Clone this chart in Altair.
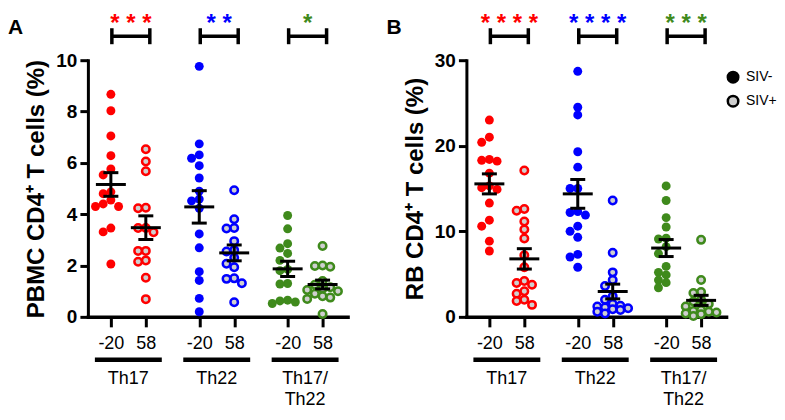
import json
import altair as alt
import pandas as pd

# ---------------- data ----------------
groups = ["Th17", "Th22", "Th17/Th22"]
group_labels = ["Th17", "Th22", "Th17/\nTh22"]
days = ["-20", "58"]
status = ["SIV-", "SIV+"]
group_colors = ["#ff0000", "#0000ff", "#3f8a1c"]
open_fill = "#cfcfcf"

# Panel A: PBMC
pbmc_th17_m20 = [8.67, 8.03, 7.05, 6.28, 5.76, 5.53, 4.87, 4.80, 4.55, 4.40, 4.30, 4.30, 3.46, 3.31, 2.06]
pbmc_th17_58 = [6.53, 6.05, 5.67, 4.25, 4.23, 3.46, 3.46, 3.30, 2.57, 2.57, 2.20, 2.15, 1.52, 0.69]
pbmc_th22_m20 = [9.76, 6.74, 6.31, 6.18, 5.89, 5.41, 4.90, 4.59, 4.52, 4.23, 3.23, 2.69, 1.76, 1.42, 0.72, 0.20]
pbmc_th22_58 = [4.93, 3.80, 3.46, 3.44, 2.95, 2.60, 2.55, 2.30, 2.07, 1.93, 1.50, 1.48, 1.31, 0.57]
pbmc_th1722_m20 = [3.95, 3.43, 2.85, 2.68, 2.47, 2.20, 1.85, 1.80, 1.30, 1.28, 0.65, 0.62, 0.58, 0.52]
pbmc_th1722_58 = [2.76, 2.00, 1.98, 1.95, 1.40, 1.25, 1.15, 1.10, 1.05, 1.00, 0.90, 0.80, 0.75, 0.70, 0.11]
pbmc_stars = ["***", "**", "*"]
pbmc_title = "PBMC CD4⁺ T cells (%)"
pbmc_ticks = [0, 2, 4, 6, 8, 10]

# Panel B: RB
rb_th17_m20 = [23.0, 21.0, 20.4, 18.4, 18.3, 18.2, 16.8, 15.3, 15.1, 14.9, 13.3, 11.3, 10.6, 8.85, 7.7]
rb_th17_58 = [17.1, 12.6, 12.4, 11.15, 10.2, 9.15, 7.2, 5.8, 4.2, 3.95, 3.75, 3.0, 2.7, 2.0, 1.85, 1.4]
rb_th22_m20 = [28.7, 24.5, 23.6, 19.3, 17.5, 15.0, 15.0, 12.3, 12.2, 11.9, 10.6, 10.0, 9.3, 7.3, 7.0, 5.8]
rb_th22_58 = [13.6, 7.5, 5.2, 4.3, 3.6, 2.4, 2.0, 1.5, 1.3, 1.2, 1.1, 1.0, 0.9, 0.8, 0.6, 0.4]
rb_th1722_m20 = [15.3, 13.6, 11.6, 10.5, 9.2, 9.1, 8.2, 7.4, 5.9, 5.2, 4.9, 4.3, 4.0, 3.4]
rb_th1722_58 = [9.0, 4.3, 2.9, 2.8, 2.0, 1.8, 1.5, 1.2, 0.8, 0.7, 0.6, 0.5, 0.4, 0.3, 0.1]
rb_stars = ["****", "****", "***"]
rb_title = "RB CD4⁺ T cells (%)"
rb_ticks = [0, 10, 20, 30]

# ---------------- layout ----------------
FONT = "Liberation Sans"
W, H = 260, 257
GROUP0, GROUP_STEP, HALF = 40.5, 88.5, 17.5
SWARM_STEP, SWARM_D, SWARM_MAXK = 7.7, 7.0, 2
SPACING = 39
LEGEND_X = 639
LEGEND_Y = 10


def swarm(vals, ymax):
    """Deterministic beeswarm offsets (pixel units) so dots do not pile up."""
    scale = H / ymax
    cands = [0.0]
    for k in range(1, SWARM_MAXK + 1):
        cands += [-k * SWARM_STEP, k * SWARM_STEP]
    order = sorted(range(len(vals)), key=lambda i: -vals[i])
    placed, offs = [], [0.0] * len(vals)
    for i in order:
        y = vals[i] * scale
        best, best_d = None, -1.0
        for c in cands:
            dmin = min([((c - px) ** 2 + (y - py) ** 2) ** 0.5 for px, py in placed] or [1e9])
            if dmin >= SWARM_D:
                best = c
                break
            if dmin > best_d:
                best, best_d = c, dmin
        offs[i] = best
        placed.append((best, y))
    return offs


def build_panel(series, ymax, yticks, ytitle, letter, stars, with_legend):
    rows = []
    tick_pos, tick_lab = [], []
    for gi, g in enumerate(groups):
        for di, d in enumerate(days):
            xb = GROUP0 + GROUP_STEP * gi + (2 * di - 1) * HALF
            tick_pos.append(xb)
            tick_lab.append(d)
            vals = series[gi][di]
            for v, o in zip(vals, swarm(vals, ymax)):
                rows.append(dict(group=g, day=d, status=status[di], value=v, xb=xb, xj=xb + o))
    df = pd.DataFrame(rows)

    grp = pd.DataFrame({
        "group": groups,
        "label": group_labels,
        "stars": [" ".join(s) for s in stars],
    })
    centers = [GROUP0 + GROUP_STEP * i for i in range(len(groups))]
    grp["xc"] = centers
    grp["bl"] = [c - HALF + 1 for c in centers]
    grp["br"] = [c + HALF + 4 for c in centers]
    grp["bc"] = (grp["bl"] + grp["br"]) / 2
    grp["ul"] = [c - 33.5 for c in centers]
    grp["ur"] = [c + 33.5 for c in centers]

    xscale = alt.Scale(domain=[0, W], nice=False, zero=False)
    xaxis = alt.Axis(
        values=tick_pos,
        labelExpr=f"{json.dumps(tick_lab)}[indexof({json.dumps(tick_pos)}, datum.value)]",
        title=None, grid=False, domainColor="black", domainWidth=3.5, domainCap="square",
        tickColor="black", tickWidth=3, tickSize=10, labelFont=FONT, labelFontSize=18,
        labelColor="black", labelPadding=8, labelFlush=False, labelOverlap=False,
    )
    yscale = alt.Scale(domain=[0, ymax], nice=False, zero=True)
    yaxis = alt.Axis(
        values=yticks, format="d", title=ytitle, grid=False, domainColor="black",
        domainWidth=3, domainCap="square", tickColor="black", tickWidth=3, tickSize=8,
        labelFont=FONT, labelFontSize=19, labelFontWeight="bold", labelColor="black",
        labelPadding=3, titleFont=FONT, titleFontSize=24, titleFontWeight="bold",
        titleColor="black", titlePadding=7,
    )

    def X(f):
        return alt.X(f"{f}:Q", scale=xscale, axis=xaxis)

    def Y(f):
        return alt.Y(f"{f}:Q", scale=yscale, axis=yaxis)

    gscale = alt.Scale(domain=groups, range=group_colors)

    base = alt.Chart(df)
    filled = base.transform_filter(alt.datum.status == status[0]).mark_point(
        filled=True, size=80, opacity=1, strokeWidth=0
    ).encode(x=X("xj"), y=Y("value"), fill=alt.Fill("group:N", scale=gscale, legend=None))
    hollow = base.transform_filter(alt.datum.status == status[1]).mark_point(
        filled=False, size=56, opacity=1, strokeWidth=2.5
    ).encode(
        x=X("xj"), y=Y("value"),
        stroke=alt.Stroke("group:N", scale=gscale, legend=None),
        fill=alt.value(open_fill),
    )

    stats = base.transform_aggregate(
        mean="mean(value)", se="stderr(value)", groupby=["xb"]
    ).transform_calculate(lo="datum.mean - datum.se", hi="datum.mean + datum.se")
    whisker = stats.mark_rule(color="black", strokeWidth=3).encode(
        x=X("xb"), y=Y("lo"), y2=alt.Y2("hi"))
    mean_t = stats.mark_tick(orient="horizontal", size=30, thickness=3, color="black", opacity=1).encode(
        x=X("xb"), y=Y("mean"))
    lo_t = stats.mark_tick(orient="horizontal", size=15, thickness=3, color="black", opacity=1).encode(
        x=X("xb"), y=Y("lo"))
    hi_t = stats.mark_tick(orient="horizontal", size=15, thickness=3, color="black", opacity=1).encode(
        x=X("xb"), y=Y("hi"))

    gb = alt.Chart(grp)
    bracket = gb.mark_rule(color="black", strokeWidth=3.5).encode(
        x=X("bl"), x2=alt.X2("br"), y=alt.value(-24))
    cap_l = gb.mark_rule(color="black", strokeWidth=3.5).encode(
        x=X("bl"), y=alt.value(-32), y2=alt.value(-16))
    cap_r = gb.mark_rule(color="black", strokeWidth=3.5).encode(
        x=X("br"), y=alt.value(-32), y2=alt.value(-16))
    star_t = gb.mark_text(font=FONT, fontSize=24, fontWeight="bold", baseline="middle", align="center").encode(
        x=X("bc"), y=alt.value(-36), text="stars:N",
        fill=alt.Fill("group:N", scale=gscale, legend=None))
    underline = gb.mark_rule(color="black", strokeWidth=4.5).encode(
        x=X("ul"), x2=alt.X2("ur"), y=alt.value(H + 43))
    glabel = gb.mark_text(font=FONT, fontSize=18, color="black", align="center",
                          baseline="alphabetic", lineBreak="\n", lineHeight=21).encode(
        x=X("xc"), y=alt.value(H + 67), text="label:N")

    letter_t = alt.Chart(pd.DataFrame({"letter": [letter]})).mark_text(
        font=FONT, fontSize=21, fontWeight="bold", color="black", align="left", baseline="alphabetic"
    ).encode(x=alt.value(-80), y=alt.value(-26), text="letter:N")

    layers = [filled, hollow, whisker, mean_t, lo_t, hi_t, bracket, cap_l, cap_r,
              star_t, underline, glabel, letter_t]

    if with_legend:
        leg = alt.Chart(pd.DataFrame({"status": status})).transform_filter("false").mark_point(
            filled=True, size=110, opacity=1, stroke="black", strokeWidth=2.5
        ).encode(
            color=alt.Color("status:N", scale=alt.Scale(domain=status, range=["black", open_fill]),
                            legend=alt.Legend(title=None, orient="none", legendX=LEGEND_X, legendY=LEGEND_Y,
                                              labelFont=FONT, labelFontSize=14, labelColor="black",
                                              symbolType="circle", symbolSize=110,
                                              symbolStrokeColor="black", symbolStrokeWidth=2.5,
                                              labelOffset=6, rowPadding=2, padding=0))
        )
        layers.append(leg)

    return alt.layer(*layers).properties(width=W, height=H)


panel_a = build_panel(
    [[pbmc_th17_m20, pbmc_th17_58], [pbmc_th22_m20, pbmc_th22_58], [pbmc_th1722_m20, pbmc_th1722_58]],
    10, pbmc_ticks, pbmc_title, "A", pbmc_stars, False)
panel_b = build_panel(
    [[rb_th17_m20, rb_th17_58], [rb_th22_m20, rb_th22_58], [rb_th1722_m20, rb_th1722_58]],
    30, rb_ticks, rb_title, "B", rb_stars, True)

chart = alt.hconcat(panel_a, panel_b, spacing=SPACING).properties(
    padding={"top": 4, "left": 0, "right": 0, "bottom": 0}, background="white"
).configure_view(stroke=None)

chart.save("out.html", embed_options={"renderer": "svg", "actions": False})
